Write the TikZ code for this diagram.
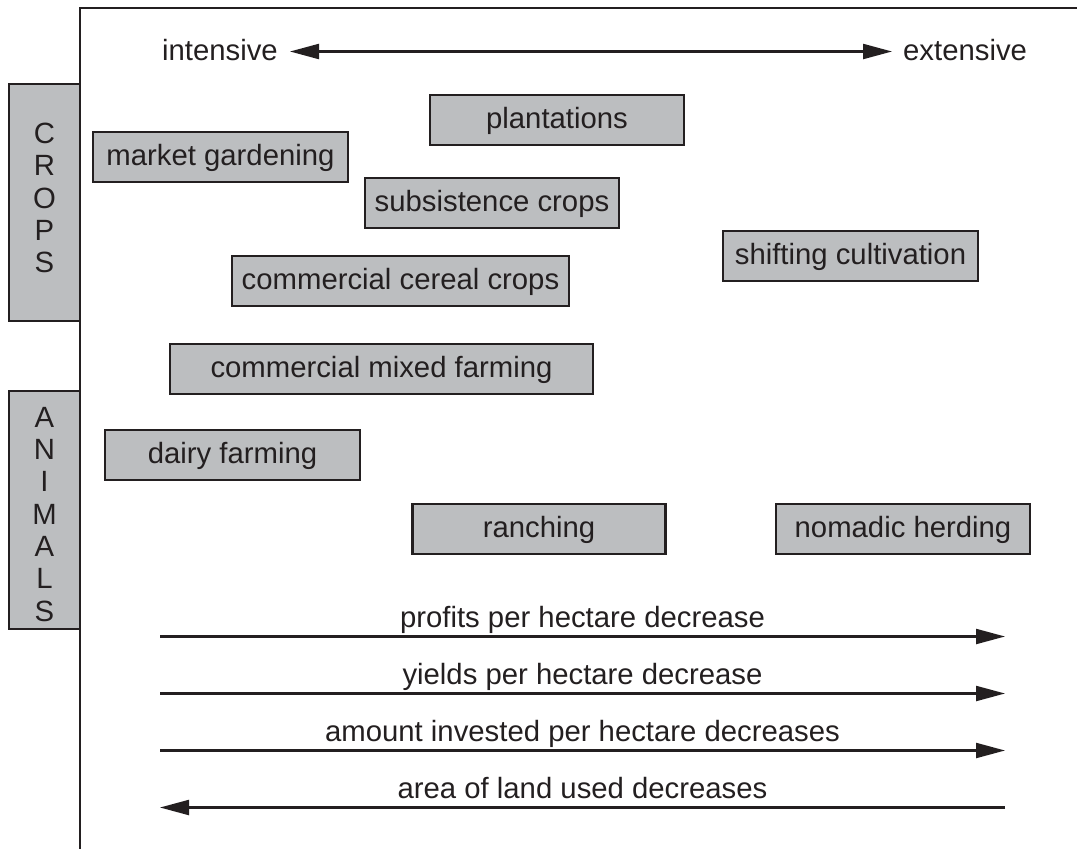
\documentclass[tikz,border=0pt]{standalone}
\usepackage{fontspec}
\setmainfont{Liberation Sans}
\usetikzlibrary{arrows.meta}
\definecolor{ink}{HTML}{231F20}
\definecolor{boxgray}{HTML}{BCBEC0}
\begin{document}
\begin{tikzpicture}[x=1pt,y=-1pt,
  font=\fontsize{29.3}{32.3}\selectfont,
  every node/.style={text=ink},
  farm/.style={draw=ink, fill=boxgray, line width=2.2pt, minimum height=50pt, inner sep=0pt, text height=17pt, text depth=0pt},
  side/.style={draw=ink, fill=boxgray, line width=2.2pt, inner sep=0pt},
  stack/.style={anchor=north, inner sep=0pt, align=center},
  arr/.style={draw=ink, line width=2.2pt, -{Triangle[length=29pt,width=15pt]}},
  lbl/.style={anchor=base, inner sep=0pt}]
\useasboundingbox (0,0) rectangle (1077,849);
% frame
\coordinate (fb) at (80,849);
\coordinate (ft) at (80,8);
\coordinate (fr) at (1077,8);
\draw[ink, line width=2.2pt] (fb) -- (ft) -- (fr);
% side boxes
\node[side, minimum width=71pt, minimum height=237pt] (crops) at (44.5,202.5) {};
\node[stack] (cropst) at (44.5,123) {C\\R\\O\\P\\S};
\node[side, minimum width=71pt, minimum height=238pt] (animals) at (44.5,510) {};
\node[stack] (animalst) at (44.5,407) {A\\N\\I\\M\\A\\L\\S};
% top arrow
\node[lbl, anchor=base east] (int) at (278,60) {intensive};
\node[lbl, anchor=base west] (ext) at (903,60) {extensive};
\coordinate (il) at (290,51.5);
\coordinate (er) at (892,51.5);
\draw[ink, line width=2.2pt, {Triangle[length=29pt,width=15pt]}-{Triangle[length=29pt,width=15pt]}] (il) -- (er);
% farming boxes
\node[farm, minimum width=255pt] (mg) at (220.5,157) {market gardening};
\node[farm, minimum width=254pt] (pl) at (557,120) {plantations};
\node[farm, minimum width=254pt] (sc) at (492,203) {subsistence crops};
\node[farm, minimum width=337pt] (ccc) at (400.5,281) {commercial cereal crops};
\node[farm, minimum width=255pt] (shc) at (850.5,256) {shifting cultivation};
\node[farm, minimum width=423pt] (cmf) at (381.5,369) {commercial mixed farming};
\node[farm, minimum width=255pt] (df) at (232.5,455) {dairy farming};
\node[farm, minimum width=253pt] (ra) at (539,529) {ranching};
\node[farm, minimum width=254pt] (nh) at (903,529) {nomadic herding};
% bottom arrows
\coordinate (a1s) at (160,636.5); \coordinate (a1e) at (1005,636.5);
\coordinate (a2s) at (160,693.5); \coordinate (a2e) at (1005,693.5);
\coordinate (a3s) at (160,750.5); \coordinate (a3e) at (1005,750.5);
\coordinate (a4s) at (1005,807.5); \coordinate (a4e) at (160,807.5);
\draw[arr] (a1s) -- (a1e);
\draw[arr] (a2s) -- (a2e);
\draw[arr] (a3s) -- (a3e);
\draw[arr] (a4s) -- (a4e);
\node[lbl] (l1) at (582.5,627.5) {profits per hectare decrease};
\node[lbl] (l2) at (582.5,684.5) {yields per hectare decrease};
\node[lbl] (l3) at (582.5,741.5) {amount invested per hectare decreases};
\node[lbl] (l4) at (582.5,798.5) {area of land used decreases};
\end{tikzpicture}
\end{document}
